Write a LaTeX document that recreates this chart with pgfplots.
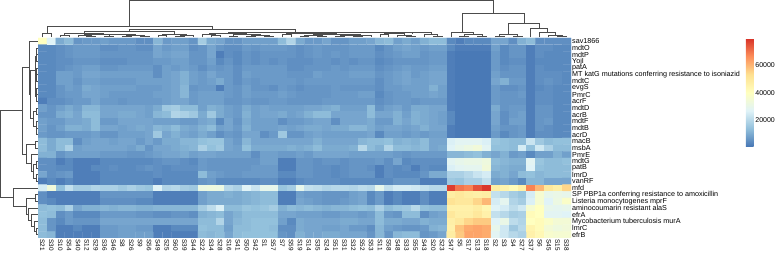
\documentclass[border=0pt]{standalone}
\usepackage{fontspec}
\setmainfont{Liberation Sans}
\usepackage{pgfplots}
\pgfplotsset{compat=1.18}
\begin{document}
\begin{tikzpicture}[x=1pt,y=1pt]
\useasboundingbox (0,0) rectangle (776,253);
\begin{axis}[
  at={(38pt,15pt)},anchor=south west,
  scale only axis,width=533pt,height=200pt,
  xmin=-0.5,xmax=59.5,ymin=-0.5,ymax=29.5,y dir=reverse,
  axis line style={draw=none},major tick length=0pt,
  colormap={rdylbu}{rgb255=(69,117,180) rgb255=(145,191,219) rgb255=(224,243,248) rgb255=(255,255,191) rgb255=(254,224,144) rgb255=(252,141,89) rgb255=(215,48,39)},
  point meta min=300,point meta max=80000,
  xtick={0,...,59},ytick={0,...,29},
  xticklabels={S21,S30,S10,S54,S40,S12,S29,S36,S46,S8,S26,S9,S56,S49,S25,S60,S39,S44,S22,S34,S28,S16,S41,S50,S42,S1,S57,S7,S59,S19,S14,S35,S24,S51,S31,S32,S52,S53,S11,S58,S48,S33,S55,S43,S20,S23,S47,S5,S17,S13,S18,S2,S3,S4,S27,S37,S6,S45,S15,S38},
  yticklabels={sav1866,mdtO,mdtP,YojI,patA,MT katG mutations conferring resistance to isoniazid,mdtC,evgS,PmrC,acrF,mdtD,acrB,mdtF,mdtB,acrD,macB,msbA,PmrE,mdtG,patB,lmrD,vanRF,mfd,SP PBP1a conferring resistance to amoxicillin,Listeria monocytogenes mprF,aminocoumarin resistant alaS,efrA,Mycobacterium tuberculosis murA,lmrC,efrB},
  yticklabel pos=right,
  xticklabel style={rotate=-90,anchor=west,font=\fontsize{6.4}{6.4}\selectfont,inner xsep=1.5pt},
  yticklabel style={anchor=west,font=\fontsize{7.2}{7.2}\selectfont,inner xsep=1pt},
  colorbar,
  colorbar style={
    at={(1.3283,1)},anchor=north west,
    scale only axis,width=7.7pt,height=109pt,
    axis line style={draw=none},major tick length=0pt,
    ytick={20000,40000,60000},
    yticklabel pos=right,
    yticklabel style={anchor=west,font=\fontsize{7}{7}\selectfont,inner xsep=1.5pt,
      /pgf/number format/assume math mode=true,/pgf/number format/1000 sep={}},
    scaled y ticks=false,
  },
]
\addplot[matrix plot*,mesh/cols=60,mesh/rows=30,point meta=explicit,shader=faceted,faceted color=mapped color,line width=0.2pt]
 table[x expr={mod(\coordindex,60)},y expr={floor((\coordindex+0.5)/60)},meta expr={\thisrow{v}*1000+ifthenelse(\thisrow{v}>=3 && \thisrow{v}<=12,1000,0)},row sep=\\]{
v\\
40\\27\\9\\12\\5\\6\\6\\7\\6\\6\\6\\4\\4\\11\\6\\7\\7\\5\\17\\9\\8\\5\\5\\7\\7\\7\\7\\13\\19\\9\\6\\6\\8\\5\\5\\7\\7\\8\\11\\13\\7\\9\\7\\10\\12\\12\\3\\2\\3\\3\\3\\8\\8\\4\\10\\13\\4\\4\\4\\4\\
3\\3\\4\\5\\6\\6\\6\\4\\4\\5\\5\\4\\4\\8\\6\\7\\7\\4\\5\\8\\5\\4\\4\\6\\5\\6\\6\\6\\5\\4\\5\\6\\5\\5\\5\\6\\6\\6\\3\\5\\7\\8\\7\\6\\7\\7\\3\\2\\2\\2\\2\\7\\3\\5\\5\\2\\4\\4\\3\\3\\
3\\3\\4\\5\\6\\6\\6\\5\\5\\5\\5\\5\\5\\8\\7\\8\\8\\5\\5\\8\\2\\4\\3\\5\\4\\5\\5\\5\\5\\4\\5\\6\\5\\6\\5\\6\\6\\6\\4\\5\\6\\7\\7\\5\\6\\6\\2\\1\\1\\1\\1\\6\\3\\5\\5\\2\\4\\3\\3\\3\\
3\\3\\4\\4\\5\\5\\5\\4\\4\\4\\5\\5\\5\\6\\6\\7\\7\\5\\5\\7\\3\\5\\3\\5\\4\\5\\4\\5\\4\\4\\4\\5\\5\\4\\5\\4\\5\\5\\3\\4\\5\\5\\5\\5\\6\\6\\2\\1\\1\\1\\1\\6\\3\\4\\4\\2\\3\\3\\3\\3\\
3\\3\\4\\5\\6\\7\\7\\5\\5\\6\\6\\6\\6\\4\\7\\6\\7\\6\\4\\6\\5\\6\\4\\6\\6\\6\\6\\6\\4\\4\\5\\5\\5\\6\\5\\6\\6\\6\\4\\5\\6\\7\\6\\6\\7\\7\\2\\1\\1\\1\\1\\6\\4\\5\\5\\2\\4\\3\\3\\3\\
3\\3\\7\\7\\6\\8\\8\\7\\7\\7\\7\\7\\7\\4\\7\\8\\10\\7\\6\\8\\6\\6\\4\\7\\6\\6\\6\\6\\5\\5\\5\\7\\6\\6\\6\\7\\7\\7\\5\\6\\7\\8\\6\\7\\8\\8\\2\\1\\1\\1\\1\\7\\5\\5\\5\\2\\4\\4\\4\\3\\
3\\3\\7\\7\\5\\7\\7\\6\\6\\6\\6\\7\\7\\7\\7\\8\\10\\7\\6\\7\\9\\6\\4\\6\\5\\6\\6\\6\\6\\5\\6\\6\\6\\6\\6\\6\\6\\6\\4\\6\\7\\8\\7\\7\\8\\8\\2\\1\\1\\1\\1\\8\\10\\6\\6\\2\\4\\5\\4\\3\\
3\\3\\5\\7\\6\\9\\8\\7\\7\\7\\7\\6\\6\\6\\7\\8\\11\\5\\6\\6\\2\\6\\5\\7\\5\\5\\4\\6\\5\\4\\5\\5\\5\\6\\5\\5\\5\\5\\4\\6\\6\\7\\7\\7\\10\\7\\2\\1\\1\\1\\1\\6\\4\\4\\5\\2\\3\\4\\3\\3\\
3\\3\\5\\6\\6\\8\\8\\7\\6\\6\\6\\6\\6\\7\\7\\8\\11\\6\\7\\7\\7\\6\\5\\7\\6\\6\\6\\7\\6\\5\\5\\5\\5\\6\\6\\6\\7\\7\\3\\5\\6\\6\\7\\7\\8\\7\\2\\1\\1\\1\\1\\6\\5\\5\\6\\2\\4\\4\\3\\3\\
2\\4\\4\\5\\6\\6\\8\\6\\6\\5\\6\\6\\6\\6\\7\\8\\8\\6\\7\\7\\7\\5\\5\\6\\5\\5\\6\\6\\5\\5\\5\\5\\6\\6\\6\\6\\6\\6\\4\\5\\6\\6\\5\\6\\6\\6\\2\\1\\1\\1\\1\\6\\5\\5\\5\\2\\4\\4\\3\\3\\
7\\5\\7\\9\\7\\11\\11\\8\\8\\8\\8\\8\\7\\9\\16\\17\\13\\12\\7\\10\\9\\7\\6\\9\\7\\8\\7\\7\\7\\7\\8\\8\\9\\10\\7\\7\\7\\12\\5\\7\\8\\6\\9\\9\\8\\8\\2\\1\\1\\1\\1\\9\\5\\6\\6\\2\\5\\5\\3\\3\\
5\\5\\9\\10\\8\\12\\12\\8\\8\\9\\9\\8\\7\\11\\13\\19\\18\\16\\9\\16\\9\\7\\6\\10\\7\\8\\8\\9\\7\\8\\10\\13\\13\\8\\8\\8\\8\\13\\8\\8\\10\\7\\10\\9\\8\\7\\3\\1\\1\\1\\1\\8\\4\\6\\7\\2\\5\\5\\3\\3\\
7\\6\\6\\8\\8\\9\\12\\6\\6\\8\\8\\8\\8\\7\\7\\7\\6\\6\\8\\9\\3\\8\\5\\9\\7\\7\\7\\4\\6\\6\\7\\8\\8\\4\\8\\8\\8\\9\\6\\6\\10\\8\\10\\9\\8\\7\\3\\1\\1\\1\\1\\8\\4\\7\\7\\2\\5\\6\\3\\3\\
7\\5\\7\\10\\10\\9\\12\\8\\8\\7\\8\\9\\8\\11\\10\\13\\9\\8\\10\\12\\7\\8\\6\\10\\7\\7\\7\\8\\7\\8\\9\\9\\8\\9\\9\\11\\11\\9\\7\\8\\8\\7\\8\\10\\8\\8\\2\\1\\1\\1\\1\\7\\5\\5\\6\\2\\5\\4\\3\\3\\
6\\5\\5\\6\\6\\6\\7\\5\\5\\7\\7\\7\\8\\16\\8\\10\\8\\7\\9\\7\\4\\6\\5\\8\\8\\4\\6\\16\\5\\5\\7\\8\\7\\7\\7\\7\\7\\8\\3\\7\\7\\6\\7\\6\\7\\7\\2\\1\\1\\1\\1\\6\\3\\5\\6\\2\\4\\4\\3\\3\\
12\\9\\12\\13\\4\\7\\8\\8\\7\\8\\8\\6\\8\\6\\9\\9\\11\\11\\14\\15\\15\\8\\6\\11\\8\\8\\8\\8\\8\\8\\8\\10\\8\\8\\8\\8\\11\\12\\12\\14\\10\\11\\10\\13\\8\\8\\26\\28\\28\\28\\26\\15\\14\\13\\13\\23\\16\\13\\14\\14\\
13\\9\\13\\18\\7\\8\\8\\8\\8\\8\\7\\9\\5\\8\\8\\9\\10\\11\\18\\14\\16\\8\\7\\14\\9\\9\\9\\9\\10\\9\\10\\13\\9\\9\\9\\10\\20\\13\\10\\19\\13\\13\\11\\13\\8\\9\\27\\30\\32\\34\\28\\14\\14\\12\\25\\14\\24\\18\\13\\13\\
10\\10\\5\\7\\7\\7\\7\\6\\6\\6\\5\\5\\6\\7\\8\\8\\9\\7\\8\\8\\7\\7\\7\\7\\4\\7\\7\\6\\6\\7\\6\\8\\8\\8\\8\\7\\7\\7\\7\\7\\6\\5\\6\\6\\6\\6\\11\\11\\13\\14\\10\\8\\10\\6\\7\\3\\7\\7\\10\\7\\
4\\4\\2\\3\\2\\2\\2\\3\\3\\3\\3\\3\\3\\4\\5\\5\\4\\3\\6\\5\\5\\5\\5\\5\\5\\7\\7\\2\\2\\5\\5\\4\\5\\5\\4\\5\\5\\5\\6\\4\\8\\3\\4\\4\\4\\4\\28\\30\\31\\31\\33\\12\\11\\10\\10\\28\\15\\13\\13\\14\\
4\\4\\3\\3\\2\\2\\3\\3\\4\\3\\3\\4\\5\\4\\3\\4\\4\\4\\6\\5\\5\\5\\5\\5\\6\\6\\6\\2\\2\\5\\5\\4\\4\\3\\4\\5\\5\\4\\2\\4\\3\\4\\2\\4\\3\\3\\26\\28\\29\\29\\34\\11\\10\\9\\9\\27\\14\\13\\13\\13\\
8\\4\\5\\6\\2\\2\\2\\3\\3\\3\\3\\3\\3\\4\\3\\3\\3\\3\\12\\7\\6\\5\\5\\6\\6\\6\\6\\3\\3\\5\\5\\4\\4\\3\\4\\5\\5\\5\\2\\4\\3\\3\\3\\5\\9\\9\\18\\18\\20\\23\\25\\9\\10\\8\\12\\14\\11\\12\\13\\13\\
2\\3\\2\\3\\2\\2\\2\\3\\3\\3\\3\\3\\3\\2\\3\\3\\3\\3\\5\\6\\3\\3\\3\\3\\3\\4\\4\\2\\2\\3\\4\\4\\4\\4\\3\\3\\3\\3\\3\\3\\5\\5\\5\\2\\2\\2\\16\\15\\18\\18\\22\\7\\8\\6\\3\\11\\11\\8\\8\\8\\
25\\34\\14\\22\\17\\17\\19\\18\\18\\16\\18\\16\\15\\27\\19\\20\\17\\16\\32\\33\\32\\20\\18\\27\\23\\30\\30\\15\\17\\30\\22\\21\\19\\20\\20\\19\\21\\20\\30\\22\\25\\25\\24\\22\\20\\20\\78\\70\\68\\75\\79\\48\\45\\42\\47\\68\\60\\50\\47\\55\\
4\\2\\2\\2\\2\\2\\2\\5\\5\\5\\5\\5\\5\\2\\2\\2\\2\\2\\7\\9\\9\\10\\9\\10\\11\\13\\13\\2\\2\\7\\6\\6\\5\\5\\5\\7\\8\\3\\6\\2\\3\\2\\2\\4\\2\\2\\48\\50\\48\\47\\48\\22\\20\\17\\15\\25\\36\\30\\31\\30\\
4\\3\\2\\2\\2\\2\\2\\4\\4\\4\\4\\3\\3\\2\\2\\2\\2\\2\\7\\9\\9\\9\\9\\10\\11\\12\\12\\2\\2\\8\\7\\6\\5\\5\\6\\7\\8\\3\\6\\2\\3\\2\\2\\4\\2\\2\\52\\50\\50\\55\\60\\25\\29\\19\\17\\26\\36\\27\\32\\38\\
13\\14\\12\\18\\8\\10\\10\\11\\10\\11\\11\\10\\10\\11\\11\\11\\11\\11\\17\\21\\26\\13\\12\\15\\14\\15\\17\\10\\12\\11\\12\\11\\10\\11\\11\\13\\14\\13\\18\\12\\15\\16\\20\\14\\12\\12\\46\\46\\46\\48\\44\\27\\25\\21\\24\\36\\40\\30\\29\\30\\
14\\13\\4\\6\\3\\3\\3\\6\\6\\6\\6\\5\\5\\4\\4\\5\\5\\4\\10\\11\\12\\8\\10\\12\\12\\13\\13\\8\\8\\7\\7\\7\\6\\6\\7\\7\\6\\7\\13\\6\\5\\12\\13\\4\\7\\8\\50\\47\\47\\50\\46\\22\\20\\17\\18\\42\\40\\28\\28\\27\\
13\\5\\3\\6\\5\\5\\5\\8\\8\\8\\8\\8\\8\\8\\8\\8\\8\\8\\13\\12\\19\\8\\11\\13\\14\\14\\14\\7\\3\\9\\8\\8\\8\\8\\9\\9\\8\\8\\13\\9\\9\\8\\8\\10\\9\\9\\47\\50\\55\\57\\57\\27\\31\\21\\19\\40\\42\\38\\35\\35\\
13\\5\\2\\2\\3\\2\\2\\6\\6\\7\\7\\6\\6\\2\\2\\3\\3\\3\\14\\12\\13\\7\\12\\13\\14\\14\\12\\4\\4\\9\\8\\8\\7\\7\\8\\6\\6\\4\\11\\7\\6\\5\\5\\6\\10\\11\\46\\58\\62\\63\\62\\30\\24\\16\\20\\45\\42\\35\\33\\34\\
13\\11\\2\\2\\2\\2\\2\\6\\6\\7\\7\\7\\7\\2\\2\\2\\2\\2\\13\\11\\13\\8\\13\\14\\14\\14\\14\\5\\4\\10\\8\\8\\9\\9\\8\\8\\8\\5\\11\\5\\11\\13\\13\\5\\6\\8\\48\\57\\63\\63\\62\\28\\24\\20\\18\\46\\43\\37\\36\\36\\
};
\end{axis}
\begin{axis}[
  at={(0pt,0pt)},anchor=south west,
  scale only axis,width=776pt,height=253pt,
  xmin=0,xmax=776,ymin=0,ymax=253,y dir=reverse,
  hide axis,clip=false,unbounded coords=jump,
]
% top dendrogram
\addplot[mark=none,line width=0.75pt,color=black!70] coordinates {
(129.5,26)(129.5,0.7)(493,0.7)(493,13)(nan,nan)
(47,33.5)(47,26)(212,26)(212,29)(nan,nan)
(42.4,37.5)(42.4,33.5)(51.3,33.5)(51.3,37.5)(nan,nan)
(129,31.5)(129,29)(295,29)(295,32)(nan,nan)
(84,33.5)(84,31.5)(174.5,31.5)(174.5,34)(nan,nan)
(64.6,35)(64.6,33.5)(103.5,33.5)(103.5,34.5)(nan,nan)
(60.2,37.5)(60.2,35)(69.1,35)(69.1,37.5)(nan,nan)
(84.6,35.5)(84.6,34.5)(122.4,34.5)(122.4,35)(nan,nan)
(78,37.5)(78,35.5)(91.25,35.5)(91.25,36)(nan,nan)
(86.8,37.5)(86.8,36)(95.7,36)(95.7,37.5)(nan,nan)
(104.6,37.5)(104.6,36)(113.5,36)(113.5,37.5)(nan,nan)
(122.4,37.5)(122.4,36)(131.2,36)(131.2,37.5)(nan,nan)
(140.1,37.5)(140.1,36)(149,36)(149,37.5)(nan,nan)
(126.8,36)(126.8,35)(144.5,35)(144.5,36)(nan,nan)
(109,36)(109,34.5)(135.7,34.5)(135.7,35)(nan,nan)
(157.9,37.5)(157.9,35)(166.8,35)(166.8,37.5)(nan,nan)
(175.6,37.5)(175.6,36)(184.5,36)(184.5,37.5)(nan,nan)
(180,36)(180,35.5)(193.4,35.5)(193.4,37.5)(nan,nan)
(162.3,35)(162.3,34)(186.7,34)(186.7,35.5)(nan,nan)
(228,33)(228,32)(362.2,32)(362.2,32.6)(nan,nan)
(209,34.5)(209,33)(246.7,33)(246.7,34)(nan,nan)
(211.2,37.5)(211.2,35.5)(220,35.5)(220,37.5)(nan,nan)
(202.3,37.5)(202.3,34.5)(215.6,34.5)(215.6,35.5)(nan,nan)
(228.9,37.5)(228.9,36)(237.8,36)(237.8,37.5)(nan,nan)
(246.7,37.5)(246.7,36)(255.6,36)(255.6,37.5)(nan,nan)
(264.4,37.5)(264.4,36.5)(273.3,36.5)(273.3,37.5)(nan,nan)
(251.1,36)(251.1,35)(268.9,35)(268.9,36.5)(nan,nan)
(233.3,36)(233.3,34)(260,34)(260,35)(nan,nan)
(311.6,33)(311.6,32.6)(412.7,32.6)(412.7,32.8)(nan,nan)
(282.2,37.5)(282.2,34)(291.1,34)(291.1,37.5)(nan,nan)
(300,37.5)(300,36)(308.8,36)(308.8,37.5)(nan,nan)
(317.7,37.5)(317.7,36)(326.6,36)(326.6,37.5)(nan,nan)
(304.4,36)(304.4,35)(322.2,35)(322.2,36)(nan,nan)
(335.5,37.5)(335.5,36.2)(344.4,36.2)(344.4,37.5)(nan,nan)
(353.2,37.5)(353.2,36.2)(362.1,36.2)(362.1,37.5)(nan,nan)
(340,36.2)(340,35.5)(357.7,35.5)(357.7,36.2)(nan,nan)
(348.8,35.5)(348.8,35)(371,35)(371,37.5)(nan,nan)
(313.3,35)(313.3,34)(359.9,34)(359.9,35)(nan,nan)
(286.65,34)(286.65,33)(336.6,33)(336.6,34)(nan,nan)
(379.9,37.5)(379.9,34)(388.8,34)(388.8,37.5)(nan,nan)
(406.5,37.5)(406.5,36)(415.4,36)(415.4,37.5)(nan,nan)
(397.6,37.5)(397.6,35.5)(411,35.5)(411,36)(nan,nan)
(384.4,34)(384.4,33.3)(404.3,33.3)(404.3,35.5)(nan,nan)
(433.2,37.5)(433.2,36)(442,36)(442,37.5)(nan,nan)
(424.3,37.5)(424.3,34.5)(437.6,34.5)(437.6,36)(nan,nan)
(394.4,33.3)(394.4,32.8)(431,32.8)(431,34.5)(nan,nan)
(462,32)(462,13)(523.9,13)(523.9,23.5)(nan,nan)
(450.9,37.5)(450.9,32)(473.1,32)(473.1,34)(nan,nan)
(459.8,37.5)(459.8,36)(468.7,36)(468.7,37.5)(nan,nan)
(477.6,37.5)(477.6,36)(486.4,36)(486.4,37.5)(nan,nan)
(464.25,36)(464.25,34)(482,34)(482,36)(nan,nan)
(508.65,34)(508.65,23.5)(539.1,23.5)(539.1,28.3)(nan,nan)
(499.75,36)(499.75,34)(517.55,34)(517.55,36)(nan,nan)
(495.3,37.5)(495.3,36)(504.2,36)(504.2,37.5)(nan,nan)
(513.1,37.5)(513.1,36)(522,36)(522,37.5)(nan,nan)
(530.8,37.5)(530.8,28.3)(547.5,28.3)(547.5,32.3)(nan,nan)
(539.7,37.5)(539.7,32.3)(555.3,32.3)(555.3,35)(nan,nan)
(548.6,37.5)(548.6,35)(562,35)(562,36)(nan,nan)
(557.5,37.5)(557.5,36)(566.4,36)(566.4,37.5)(nan,nan)
};
% left dendrogram
\addplot[mark=none,line width=0.75pt,color=black!70] coordinates {
(22,110.8)(0.7,110.8)(0.7,197)(13,197)(nan,nan)
(29,67.6)(22,67.6)(22,153.9)(26,153.9)(nan,nan)
(37.5,41.3)(29,41.3)(29,94)(30,94)(nan,nan)
(35,70.5)(30,70.5)(30,118.8)(33,118.8)(nan,nan)
(36,56.3)(35,56.3)(35,84.7)(35.5,84.7)(nan,nan)
(36.5,51.3)(36,51.3)(36,61.3)(37.5,61.3)(nan,nan)
(37.5,48)(36.5,48)(36.5,54.7)(37.5,54.7)(nan,nan)
(36,73)(35.5,73)(35.5,96.3)(36,96.3)(nan,nan)
(37.5,68)(36,68)(36,78)(36.5,78)(nan,nan)
(37.5,74.7)(36.5,74.7)(36.5,81.3)(37.5,81.3)(nan,nan)
(36.5,91.3)(36,91.3)(36,101.3)(37.5,101.3)(nan,nan)
(37.5,88)(36.5,88)(36.5,94.7)(37.5,94.7)(nan,nan)
(36,111.3)(33,111.3)(33,126.3)(36,126.3)(nan,nan)
(37.5,108)(36,108)(36,114.7)(37.5,114.7)(nan,nan)
(37.5,121.3)(36,121.3)(36,131.3)(36.5,131.3)(nan,nan)
(37.5,128)(36.5,128)(36.5,134.7)(37.5,134.7)(nan,nan)
(35,144.7)(26,144.7)(26,163)(31,163)(nan,nan)
(37.5,141.3)(35,141.3)(35,148)(37.5,148)(nan,nan)
(37.5,154.7)(31,154.7)(31,171.3)(33.5,171.3)(nan,nan)
(36,164.7)(33.5,164.7)(33.5,178)(36,178)(nan,nan)
(37.5,161.3)(36,161.3)(36,168)(37.5,168)(nan,nan)
(37.5,174.7)(36,174.7)(36,181.3)(37.5,181.3)(nan,nan)
(37.5,188)(13,188)(13,206)(26,206)(nan,nan)
(35,198)(26,198)(26,214.3)(28,214.3)(nan,nan)
(37.5,194.7)(35,194.7)(35,201.3)(37.5,201.3)(nan,nan)
(37.5,208)(28,208)(28,220.5)(31,220.5)(nan,nan)
(37.5,214.7)(31,214.7)(31,226.3)(34,226.3)(nan,nan)
(37.5,221.3)(34,221.3)(34,231.3)(36,231.3)(nan,nan)
(37.5,228)(36,228)(36,234.7)(37.5,234.7)(nan,nan)
};
\end{axis}
\end{tikzpicture}
\end{document}
